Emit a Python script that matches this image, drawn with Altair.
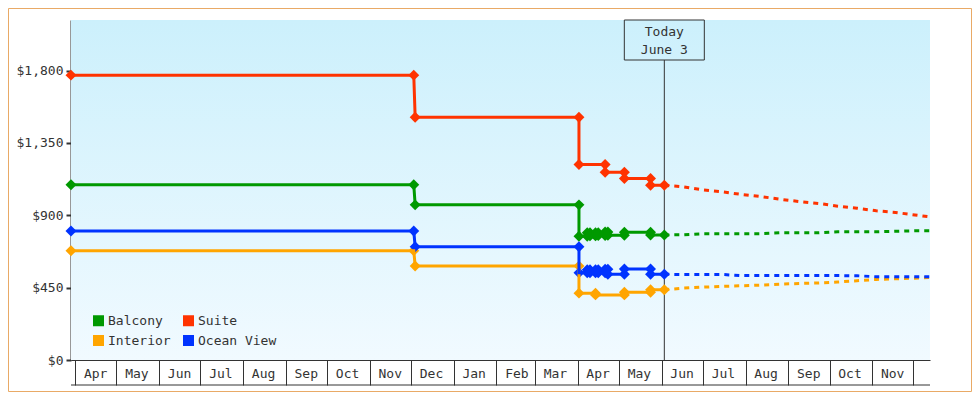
import altair as alt
import pandas as pd

FONT = "DejaVu Sans Mono"
TEXT = "#333333"

series_names = ["Balcony", "Suite", "Interior", "Ocean View"]
series_colors = ["#009900", "#ff3300", "#ffa500", "#0033ff"]

# historical fares (step changes: old value and new value at each change date)
balcony_dates = ["2022-03-29", "2022-12-03", "2022-12-04", "2023-04-02", "2023-04-02",
                 "2023-04-08", "2023-04-08", "2023-04-10", "2023-04-10", "2023-04-14",
                 "2023-04-14", "2023-04-16", "2023-04-16", "2023-04-21", "2023-04-21",
                 "2023-04-23", "2023-04-23", "2023-05-05", "2023-05-05", "2023-05-24",
                 "2023-05-24", "2023-06-03"]
balcony_prices = [1090, 1090, 965, 965, 770,
                  770, 792, 792, 772, 772,
                  792, 792, 774, 774, 796,
                  796, 776, 776, 795, 795,
                  778, 778]

suite_dates = ["2022-03-29", "2022-12-03", "2022-12-04", "2023-04-02", "2023-04-02",
               "2023-04-21", "2023-04-21", "2023-05-05", "2023-05-05", "2023-05-24",
               "2023-05-24", "2023-06-03"]
suite_prices = [1772, 1772, 1510, 1510, 1216,
                1216, 1168, 1168, 1129, 1129,
                1087, 1087]

interior_dates = ["2022-03-29", "2022-12-03", "2022-12-04", "2023-04-02", "2023-04-02",
                  "2023-04-14", "2023-04-14", "2023-05-05", "2023-05-05", "2023-05-24",
                  "2023-05-24", "2023-06-03"]
interior_prices = [680, 680, 585, 585, 416,
                   416, 405, 405, 421, 421,
                   437, 437]

ocean_dates = ["2022-03-29", "2022-12-03", "2022-12-04", "2023-04-02", "2023-04-02",
               "2023-04-08", "2023-04-08", "2023-04-10", "2023-04-10", "2023-04-14",
               "2023-04-14", "2023-04-16", "2023-04-16", "2023-04-21", "2023-04-21",
               "2023-04-23", "2023-04-23", "2023-05-05", "2023-05-05", "2023-05-24",
               "2023-05-24", "2023-06-03"]
ocean_prices = [802, 802, 705, 705, 543,
                543, 562, 562, 543, 543,
                562, 562, 543, 543, 565,
                565, 534, 534, 566, 566,
                533, 533]

# projected fares
proj_dates = ["2023-06-03", "2023-06-17", "2023-07-01", "2023-07-15", "2023-07-29",
              "2023-08-12", "2023-08-26", "2023-09-09", "2023-09-23", "2023-10-07",
              "2023-10-21", "2023-11-04", "2023-11-18", "2023-12-02", "2023-12-13"]
balcony_proj = [778, 779, 785, 785, 785, 786, 791, 791, 791, 798, 798, 798, 801, 804, 804]
suite_proj = [1087, 1077, 1058, 1046, 1030, 1017, 1000, 986, 974, 957, 944, 928, 918, 902, 890]
interior_proj = [437, 447, 453, 458, 462, 466, 472, 476, 479, 485, 493, 501, 505, 509, 514]
ocean_proj = [533, 532, 532, 532, 525, 525, 525, 525, 525, 525, 524, 518, 518, 518, 518]

y_ticks = [0, 450, 900, 1350, 1800]
y_max = 2115
x_domain = ["2022-03-29", "2023-12-13"]
today_date = "2023-06-03"
today_label = "Today\nJune 3"

W, H = 859, 340
PAD = {"left": 63, "top": 12, "right": 42, "bottom": 32}


def local(d):
    return d + "T00:00:00"


hist_rows = []
for name, ds, ps in [("Balcony", balcony_dates, balcony_prices),
                     ("Suite", suite_dates, suite_prices),
                     ("Interior", interior_dates, interior_prices),
                     ("Ocean View", ocean_dates, ocean_prices)]:
    for i, (d, p) in enumerate(zip(ds, ps)):
        hist_rows.append({"series": name, "date": local(d), "price": p, "idx": i})
hist = pd.DataFrame(hist_rows)

proj_rows = []
for name, ps in [("Balcony", balcony_proj), ("Suite", suite_proj),
                 ("Interior", interior_proj), ("Ocean View", ocean_proj)]:
    for i, (d, p) in enumerate(zip(proj_dates, ps)):
        proj_rows.append({"series": name, "date": local(d), "price": p, "idx": i})
proj = pd.DataFrame(proj_rows)

today_df = pd.DataFrame([{"date": local(today_date), "label": today_label}])


def to_dt(s):
    y, m, d = [int(v) for v in s.split("-")]
    return alt.DateTime(year=y, month=m, date=d)


ey, em, ed = [int(v) for v in x_domain[1].split("-")]
label_expr = (f"time(datum.value) > datetime({ey},{em - 1},{ed}) - 2592e6 ? '' : "
              "timeFormat(datum.value, '%b')")

x_scale = alt.Scale(domain=[to_dt(x_domain[0]), to_dt(x_domain[1])], nice=False)
y_scale = alt.Scale(domain=[0, y_max], nice=False)
color_scale = alt.Scale(domain=series_names, range=series_colors)

x_axis = alt.Axis(title=None, grid=False, tickCount={"interval": "month", "step": 1},
                  labelExpr=label_expr, tickSize=25, tickWidth=1, tickColor=TEXT,
                  domainColor=TEXT, domainWidth=1, labelPadding=-12, labelOffset=20,
                  labelBaseline="middle", labelAlign="center", labelFlush=False,
                  labelOverlap=False, labelBound=False, labelFont=FONT,
                  labelFontSize=13, labelColor=TEXT)
y_axis = alt.Axis(title=None, grid=False, values=y_ticks, format="$,.0f",
                  tickSize=5, tickWidth=2, tickColor=TEXT, domainColor=TEXT,
                  domainWidth=2, labelPadding=3, labelFont=FONT, labelFontSize=13,
                  labelColor=TEXT)

legend = alt.Legend(orient="none", legendX=21, legendY=294, columns=2, title=None,
                    direction="horizontal",
                    symbolType="square", symbolSize=121, symbolStrokeWidth=0,
                    symbolOpacity=1, labelFont=FONT, labelFontSize=13,
                    labelColor=TEXT, labelOffset=3, columnPadding=11, rowPadding=6)

X = alt.X("date:T", scale=x_scale, axis=x_axis)
Y = alt.Y("price:Q", scale=y_scale, axis=y_axis)
C = alt.Color("series:N", scale=color_scale, legend=legend)

bg = alt.Chart(alt.Data(values=[{}])).mark_rect(
    fill=alt.Gradient(gradient="linear", x1=0, x2=0, y1=0, y2=1,
                      stops=[alt.GradientStop(color="#ccf0fc", offset=0),
                             alt.GradientStop(color="#f1faff", offset=1)])
).encode(x=alt.value(0), x2=alt.value("width"), y=alt.value(0), y2=alt.value("height"))

frame = alt.Chart(alt.Data(values=[{}])).mark_rect(
    fill="transparent", stroke="#e9aa66", strokeWidth=1
).encode(x=alt.value(-PAD["left"] + 0.5), x2=alt.value(W + PAD["right"] - 0.5),
         y=alt.value(-PAD["top"] + 0.5), y2=alt.value(H + PAD["bottom"] - 0.5))

today_rule = alt.Chart(today_df).mark_rule(color=TEXT, strokeWidth=1).encode(
    x=alt.X("date:T", scale=x_scale, axis=x_axis), y=alt.value(40), y2=alt.value("height"))

today_box = alt.Chart(today_df).mark_rect(
    fill="transparent", stroke=TEXT, strokeWidth=1, xOffset=-40, x2Offset=40
).encode(x="date:T", x2="date:T", y=alt.value(0), y2=alt.value(40))

today_text = alt.Chart(today_df).mark_text(
    font=FONT, fontSize=13, color=TEXT, lineBreak="\n", lineHeight=18,
    baseline="middle", align="center"
).encode(x="date:T", y=alt.value(12), text="label:N")

points = alt.Chart(hist).mark_point(shape="diamond", filled=True, size=120, opacity=1).encode(
    x=X, y=Y, color=C)

lines = alt.Chart(hist).mark_line(strokeWidth=3).encode(
    x=X, y=Y, color=C, order="idx:Q")

proj_lines = alt.Chart(proj).mark_line(strokeWidth=3, strokeDash=[5, 5]).encode(
    x=X, y=Y, color=C, order="idx:Q")

bottom_line = alt.Chart(alt.Data(values=[{}])).mark_rule(color=TEXT, strokeWidth=1).encode(
    x=alt.value(0), x2=alt.value("width"), y=alt.value(H + 25))

chart = alt.layer(frame, bg, today_rule, points, lines, proj_lines, today_box, today_text,
                  bottom_line).properties(
    width=W, height=H,
    padding=PAD,
    autosize=alt.AutoSizeParams(type="none"),
    background="white",
).configure_view(strokeWidth=0)

chart.save("out.html", embed_options={"renderer": "svg", "actions": False})
